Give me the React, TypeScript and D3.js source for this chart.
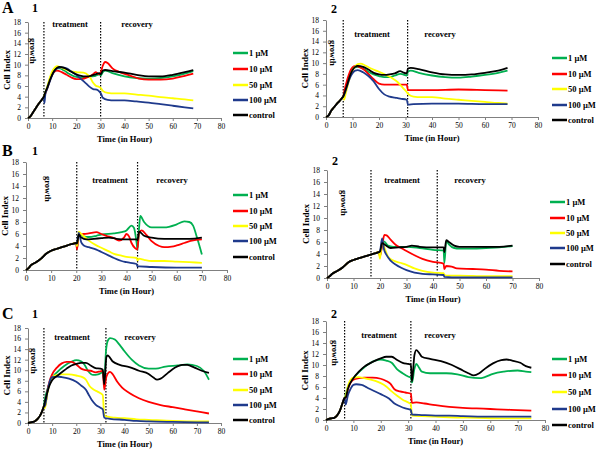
import React, { useEffect, useRef } from 'react';
import * as d3 from 'd3';

type Pt = [number, number];

// series names + colours (legend order)
const seriesNames = ['1 µM', '10 µM', '50 µM', '100 µM', 'control'];
const seriesColors = ['#00b050', '#ff0000', '#ffff00', '#1f3a8c', '#000000'];

const yTicks = [0, 2, 4, 6, 8, 10, 12, 14, 16, 18];
const xTicks = [0, 10, 20, 30, 40, 50, 60, 70, 80];

// ---- A1 ----
const a1Growth: Pt[] = [[0,0],[1,0.3],[2,1.0],[3,1.7],[4,2.4],[5,3.0],[6,3.6],[6.6,4.0]];
const a1Green: Pt[] = [[7,4.6],[8,5.8],[9,7.2],[10,8.3],[11,9.0],[12,9.3],[13,9.3],[15,8.9],[17,8.3],[20,7.7],[23,7.6],[26,7.8],[28,7.9],[29.5,8.2],[30.2,8.0],[31,8.6],[32,8.9],[35,8.4],[40,7.8],[45,7.5],[50,7.4],[55,7.5],[60,7.8],[65,8.3],[68.5,8.8]];
const a1Red: Pt[] = [[7,4.4],[8,5.6],[9,7.0],[10,8.1],[11,8.7],[12,8.9],[14,8.6],[16,8.1],[18,7.6],[20,7.3],[22,7.3],[25,7.7],[27,8.2],[28,8.6],[29.5,8.2],[30.2,8.6],[31,9.8],[32,10.5],[33,10.3],[35,9.3],[38,8.6],[42,8.0],[46,7.4],[50,7.2],[55,7.2],[60,7.4],[65,7.9],[68.5,8.3]];
const a1Yellow: Pt[] = [[7,4.5],[8,5.9],[9,7.5],[10,8.7],[11,9.4],[12,9.7],[13,9.6],[15,9.2],[17,8.9],[20,8.6],[23,8.5],[25,8.0],[26,7.4],[27,6.6],[28,6.1],[29.5,5.8],[30.2,5.6],[31,5.1],[33,4.7],[36,4.6],[40,4.6],[45,4.4],[50,4.2],[55,3.9],[60,3.7],[65,3.5],[68.5,3.3]];
const a1Blue: Pt[] = [[6.8,2.8],[7.2,4.5],[8,5.5],[9,6.8],[10,8.0],[11,8.8],[12,9.3],[14,9.5],[16,9.3],[18,8.7],[20,8.1],[22,7.3],[24,6.5],[26,5.7],[27,5.4],[28.5,5.3],[29.5,5.0],[30.2,4.6],[31,3.8],[33,3.4],[36,3.3],[40,3.3],[45,3.1],[50,2.9],[55,2.6],[60,2.3],[65,2.0],[68.5,1.8]];
const a1Control: Pt[] = [[7,4.6],[8,5.7],[9,7.0],[10,8.1],[11,8.9],[12,9.4],[13,9.6],[15,9.4],[17,8.9],[20,8.2],[22,7.9],[24,7.8],[26,7.9],[28,8.2],[29.5,8.4],[30.2,8.2],[31,8.9],[32,9.0],[35,8.8],[40,8.5],[45,8.1],[50,7.8],[55,7.8],[60,8.1],[65,8.6],[68.5,9.0]];

// ---- A2 ----
const a2Growth: Pt[] = [[0,0],[1,0.3],[2,1.2],[3,1.8],[4,2.4],[5,2.9],[6,3.5],[6.5,3.8]];
const a2Green: Pt[] = [[7,4.6],[8,6.2],[9,7.8],[10,8.8],[11,9.2],[12,9.3],[14,9.0],[16,8.4],[18,7.9],[20,7.6],[22,7.4],[24,7.4],[26,7.7],[28,8.0],[29,7.9],[30.5,7.7],[30.9,8.4],[32,8.6],[35,8.2],[40,7.7],[45,7.4],[50,7.3],[55,7.5],[60,7.8],[65,8.2],[68.5,8.6]];
const a2Red: Pt[] = [[7,5.0],[8,6.9],[9,8.4],[10,9.2],[11,9.5],[12,9.4],[14,8.9],[16,8.0],[18,7.0],[20,6.2],[22,6.0],[25,6.0],[28,6.0],[30.5,6.0],[30.9,5.0],[33,5.0],[40,5.0],[50,5.1],[60,5.0],[68.5,4.9]];
const a2Yellow: Pt[] = [[6.8,3.2],[7.5,4.5],[9,7.3],[10,8.6],[11,9.4],[12,9.8],[13,9.9],[15,9.5],[17,9.0],[20,8.4],[23,7.7],[25,7.2],[27,6.5],[29,5.4],[30.5,4.6],[31,4.3],[33,3.8],[36,3.7],[40,3.7],[45,3.4],[50,3.2],[55,3.0],[60,2.8],[65,2.6],[68.5,2.5]];
const a2Blue: Pt[] = [[7,4.3],[8,5.8],[9,7.2],[10,8.1],[11,8.6],[12,8.7],[14,8.3],[16,7.6],[18,6.6],[20,5.2],[22,4.2],[24,3.8],[26,3.6],[28,3.4],[30.5,3.2],[30.9,2.3],[33,2.4],[40,2.5],[50,2.5],[60,2.4],[68.5,2.4]];
const a2Control: Pt[] = [[7,4.5],[8,6.0],[9,7.6],[10,8.7],[11,9.3],[12,9.5],[14,9.3],[16,8.8],[18,8.2],[20,7.9],[22,7.8],[24,7.9],[26,8.1],[28,8.5],[29,8.3],[30.5,8.1],[30.9,9.0],[32,9.1],[35,8.9],[40,8.3],[45,7.9],[50,7.8],[55,7.9],[60,8.2],[65,8.6],[68.5,9.1]];

// ---- B1 ----
const b1Growth: Pt[] = [[0,0],[1,0.3],[2,0.8],[4,1.3],[6,1.9],[8,2.7],[10,3.2],[12,3.5],[15,3.9],[18,4.3],[20,4.5]];
const b1Green: Pt[] = [[20.3,3.6],[21,5.9],[23,5.6],[25,5.5],[28,5.7],[30,5.9],[35,6.1],[38,6.3],[40,6.6],[42,7.4],[43,7.0],[44,4.6],[44.4,3.4],[45,7.0],[45.5,9.0],[47,8.0],[50,7.1],[55,7.1],[60,7.6],[63,8.1],[65,8.0],[66.5,7.4],[68,5.5],[70,2.6]];
const b1Red: Pt[] = [[20.3,3.4],[21,5.9],[23,6.0],[25,6.1],[28,6.3],[30,6.0],[32,5.7],[35,5.3],[37,4.9],[39,5.4],[40,6.0],[41,5.6],[42,4.5],[43.5,3.6],[44.3,3.4],[45,6.2],[46,6.6],[48,5.8],[50,4.8],[53,4.0],[55,3.8],[58,3.9],[60,4.1],[63,4.5],[66,4.9],[70,5.1]];
const b1Yellow: Pt[] = [[20.3,4.0],[21,6.4],[22,6.0],[25,4.9],[28,4.1],[30,3.7],[33,3.1],[35,2.7],[38,2.4],[40,2.2],[44,2.0],[44.4,1.6],[45,1.9],[47,1.7],[50,1.5],[55,1.5],[60,1.4],[65,1.3],[70,1.2]];
const b1Blue: Pt[] = [[20.3,4.6],[21,6.2],[22,4.6],[23,4.1],[25,3.8],[28,3.4],[30,3.0],[33,2.4],[35,2.0],[38,1.5],[40,1.3],[44,1.0],[44.4,0.6],[45,0.6],[50,0.5],[60,0.4],[70,0.4]];
const b1Control: Pt[] = [[20.3,4.4],[21,5.9],[22,5.4],[24,5.1],[27,5.2],[30,5.3],[33,5.4],[36,5.2],[40,5.1],[44,5.1],[44.4,5.0],[45,6.4],[47,5.7],[50,5.4],[55,5.2],[60,5.2],[65,5.2],[70,5.4]];

// ---- B2 ----
const b2Growth: Pt[] = [[0,0],[1,0.3],[2,0.7],[4,1.2],[6,1.8],[8,2.6],[10,3.0],[12,3.3],[15,3.7],[18,4.1],[19.5,4.3]];
const b2Green: Pt[] = [[20,3.8],[20.8,5.5],[21.5,6.1],[23,5.4],[25,5.2],[30,5.2],[35,5.0],[40,4.7],[44,4.6],[44.3,2.5],[45,6.2],[46,5.6],[48,5.0],[50,4.9],[55,4.9],[60,5.0],[65,5.1],[70,5.3]];
const b2Red: Pt[] = [[20,3.6],[21,6.0],[21.7,7.2],[22.5,7.1],[24,6.4],[26,5.5],[28,5.0],[30,4.5],[33,3.8],[36,3.2],[40,2.7],[44,2.4],[44.3,1.5],[45,2.0],[47,1.9],[49,1.6],[55,1.5],[60,1.4],[65,1.2],[70,1.1]];
const b2Yellow: Pt[] = [[20,3.2],[20.8,6.2],[21.5,5.3],[23,3.6],[25,2.9],[28,2.5],[30,2.2],[33,1.6],[36,1.2],[40,0.9],[44,0.8],[44.3,0.5],[46,0.4],[50,0.4],[60,0.3],[70,0.3]];
const b2Blue: Pt[] = [[20,4.5],[20.8,6.6],[21.5,4.8],[22.5,3.8],[24,2.9],[26,2.2],[28,1.7],[30,1.3],[33,0.9],[36,0.7],[40,0.6],[44,0.5],[44.3,0.2],[50,0.1],[60,0.1],[70,0.1]];
const b2Control: Pt[] = [[20,4.4],[20.8,5.8],[22,5.5],[24,5.0],[27,5.1],[30,5.2],[32,5.4],[35,5.2],[40,5.1],[44,5.1],[44.3,4.3],[45,6.3],[46,6.0],[48,5.4],[50,5.2],[55,5.2],[60,5.2],[65,5.2],[70,5.4]];

// ---- C1 ----
const c1Growth: Pt[] = [[0,0],[2,0.2],[3,0.4],[4,0.8],[5,1.4],[6,2.4],[6.6,3.2]];
const c1Green: Pt[] = [[7,4.5],[8,6.3],[9,7.6],[10,8.6],[12,9.6],[15,10.8],[18,11.6],[20,11.9],[22,11.7],[23.5,11.0],[25,9.8],[27,9.1],[29,9.2],[31,9.6],[31.6,8.0],[32.3,13.5],[33,15.5],[34,16.1],[36,15.8],[38,14.8],[40,13.6],[43,12.0],[46,10.9],[50,10.3],[53,10.3],[57,10.7],[62,10.9],[66,11.1],[70,10.8],[73,9.8],[75,8.2]];
const c1Red: Pt[] = [[7,3.0],[8,6.0],[9,8.0],[10,9.2],[12,10.5],[14,11.3],[16,11.6],[18,11.6],[20,11.1],[22,10.3],[24,10.0],[26,9.9],[28,9.6],[30,9.8],[31,9.9],[31.6,6.3],[32.5,8.8],[34,9.7],[35,9.3],[37,7.8],[39,6.7],[42,5.7],[46,4.7],[50,4.0],[55,3.4],[60,3.0],[65,2.6],[70,2.2],[75,1.8]];
const c1Yellow: Pt[] = [[7,2.8],[8,5.5],[9,7.6],[10,8.6],[12,9.1],[14,9.2],[17,9.2],[20,9.0],[23,8.6],[24,8.2],[25.5,7.0],[27,6.4],[29,5.9],[31,5.3],[31.6,1.5],[33,1.2],[36,1.0],[40,0.9],[45,0.7],[50,0.6],[60,0.4],[70,0.3],[75,0.3]];
const c1Blue: Pt[] = [[7,3.2],[8,5.8],[9,7.9],[10,8.7],[12,8.8],[14,8.7],[17,8.4],[20,7.8],[22,7.1],[24,6.3],[25,5.5],[26.5,4.3],[28,3.5],[30,2.9],[31,2.6],[31.6,1.0],[34,0.8],[40,0.6],[45,0.4],[50,0.3],[60,0.2],[75,0.1]];
const c1Control: Pt[] = [[7,4.0],[8,5.8],[9,7.2],[10,8.1],[12,8.9],[14,9.6],[16,10.3],[18,10.9],[20,11.2],[22,11.4],[24,11.4],[26,10.9],[28,10.4],[30,10.3],[31,10.1],[31.6,7.3],[32.5,12.5],[33,12.8],[35,11.7],[38,11.0],[42,10.6],[46,9.9],[50,9.3],[52,8.6],[53.5,8.2],[55,8.4],[58,9.5],[61,10.5],[64,11.0],[66,11.0],[69,10.5],[72,9.9],[75,9.5]];

// ---- C2 ----
const c2Growth: Pt[] = [[0,0],[1,0.2],[2,0.3],[3,0.4],[4,0.8],[5,1.6],[6,3.0],[6.8,4.0]];
const c2Green: Pt[] = [[7.2,4.6],[8,6.0],[9,7.0],[10,7.6],[12,8.7],[14,9.6],[16,10.3],[18,10.8],[20,11.0],[22,10.8],[24,10.4],[26,9.2],[28,8.5],[30,7.9],[31,7.7],[31.4,6.8],[32.3,9.3],[33,10.2],[34,9.5],[35,8.8],[38,8.5],[44,8.5],[48,8.3],[52,7.8],[56,7.6],[58,7.8],[61,8.4],[65,8.8],[70,9.0],[73,8.8],[75,8.7]];
const c2Red: Pt[] = [[7.2,4.0],[8,5.6],[9,6.8],[10,7.3],[12,7.6],[14,7.7],[17,7.7],[20,7.5],[22,7.1],[23.5,6.6],[25,5.6],[27,5.2],[29,5.0],[31,4.8],[31.4,3.1],[33,3.2],[36,3.0],[40,2.7],[45,2.4],[50,2.2],[55,2.1],[60,2.0],[65,1.9],[70,1.8],[75,1.7]];
const c2Yellow: Pt[] = [[7.2,4.4],[8,6.2],[9,7.3],[10,7.7],[12,7.8],[14,7.6],[16,7.4],[18,7.1],[20,6.7],[22,6.1],[24,5.2],[26,4.4],[28,3.7],[30,3.2],[31,2.9],[31.4,0.8],[35,0.7],[40,0.6],[45,0.5],[55,0.4],[65,0.3],[75,0.3]];
const c2Blue: Pt[] = [[7.2,2.8],[8,4.5],[9,5.7],[10,6.4],[11,6.5],[13,6.4],[15,5.9],[17,5.4],[20,4.7],[23,3.9],[25,3.0],[27,2.5],[29,2.1],[31,1.8],[31.4,1.0],[35,0.9],[40,0.8],[45,0.8],[50,0.7],[60,0.6],[70,0.6],[75,0.6]];
const c2Control: Pt[] = [[7.2,4.1],[8,5.7],[10,7.6],[12,8.8],[14,9.7],[16,10.3],[18,10.8],[20,11.2],[22,11.5],[24,11.5],[26,10.9],[28,10.4],[30,10.2],[31,10.1],[31.4,7.0],[32.3,11.8],[33,12.7],[34,12.2],[35,11.5],[38,11.1],[42,10.7],[46,10.0],[50,9.0],[52,8.5],[54,8.1],[56,8.5],[58,9.3],[61,10.3],[64,10.9],[66,11.0],[68,10.8],[71,10.4],[73,9.8],[75,9.5]];

// phase boundaries (hours) per panel
const a1Phases = [6.6, 30.1];
const a2Phases = [6.5, 30.8];
const b1Phases = [20.2, 44.4];
const b2Phases = [16.6, 41.6];
const c1Phases = [6.6, 32.3];
const c2Phases = [6.8, 31.0];

// layout (pixels) of each panel
const panels = [
  { letter: 'A', num: '1', l: 28, r: 221, t: 22, b: 118, phases: a1Phases, growth: a1Growth,
    series: [a1Green, a1Red, a1Yellow, a1Blue, a1Control],
    treat: [70, 27], recov: [137, 27], grow: [30, 38], legX: 233, legY: [53, 69, 85, 100, 115] },
  { letter: '', num: '2', l: 326, r: 538, t: 20, b: 117, phases: a2Phases, growth: a2Growth,
    series: [a2Green, a2Red, a2Yellow, a2Blue, a2Control],
    treat: [372, 37], recov: [440, 37], grow: [330, 40], legX: 552, legY: [58, 74, 89, 105, 120] },
  { letter: 'B', num: '1', l: 26, r: 227, t: 162, b: 270, phases: b1Phases, growth: b1Growth,
    series: [b1Green, b1Red, b1Yellow, b1Blue, b1Control],
    treat: [110, 183], recov: [172, 183], grow: [45, 176], legX: 233, legY: [195, 211, 226, 241, 257] },
  { letter: '', num: '2', l: 327, r: 539, t: 170, b: 278, phases: b2Phases, growth: b2Growth,
    series: [b2Green, b2Red, b2Yellow, b2Blue, b2Control],
    treat: [402, 183], recov: [470, 183], grow: [341, 190], legX: 550, legY: [202, 218, 233, 248, 264] },
  { letter: 'C', num: '1', l: 28, r: 221, t: 328, b: 423, phases: c1Phases, growth: c1Growth,
    series: [c1Green, c1Red, c1Yellow, c1Blue, c1Control],
    treat: [72, 340], recov: [140, 340], grow: [31, 348], legX: 233, legY: [359, 374, 390, 405, 420] },
  { letter: '', num: '2', l: 326, r: 545, t: 321, b: 420, phases: c2Phases, growth: c2Growth,
    series: [c2Green, c2Red, c2Yellow, c2Blue, c2Control],
    treat: [379, 338], recov: [440, 338], grow: [332, 340], legX: 552, legY: [359, 375, 392, 409, 425] },
];

const labelTop = [12, 155, 318];

const App = () => {
  const ref = useRef<SVGSVGElement>(null);

  useEffect(() => {
    const svg = d3.select(ref.current);
    svg.selectAll('*').remove();
    const font = '"Liberation Serif", "Times New Roman", serif';

    panels.forEach((p, pi) => {
      const g = svg.append('g');
      const x = d3.scaleLinear().domain([0, 80]).range([p.l, p.r]);
      const y = d3.scaleLinear().domain([0, 18]).range([p.b, p.t]);
      const row = Math.floor(pi / 2);

      // panel letter + number
      if (p.letter) {
        g.append('text').attr('x', 2).attr('y', labelTop[row] + 1).text(p.letter)
          .attr('font-family', font).attr('font-weight', 'bold').attr('font-size', 16);
      }
      g.append('text').attr('x', p.l < 200 ? 32 : p.l + 5).attr('y', pi === 1 ? 13 : labelTop[row] + (pi === 3 ? 10 : 0))
        .text(p.num).attr('font-family', font).attr('font-weight', 'bold').attr('font-size', 12);

      // axes
      const ax = g.append('g').attr('transform', `translate(0,${p.b})`)
        .call(d3.axisBottom(x).tickValues(xTicks).tickSize(3).tickSizeOuter(0));
      const ay = g.append('g').attr('transform', `translate(${p.l},0)`)
        .call(d3.axisLeft(y).tickValues(yTicks).tickSize(3).tickSizeOuter(0));
      [ax, ay].forEach(a => {
        a.selectAll('path,line').attr('stroke', '#808080');
        a.selectAll('text').attr('font-family', font).attr('font-size', 7.5).attr('fill', '#000');
      });
      ay.selectAll('text').attr('dx', '-1');

      // axis titles
      g.append('text').attr('x', (p.l + p.r) / 2).attr('y', p.b + 24).attr('text-anchor', 'middle')
        .text('Time (in Hour)').attr('font-family', font).attr('font-weight', 'bold').attr('font-size', 8.5);
      g.append('text').attr('transform', `translate(${p.l - 18},${(p.t + p.b) / 2}) rotate(-90)`)
        .attr('text-anchor', 'middle').text('Cell Index')
        .attr('font-family', font).attr('font-weight', 'bold').attr('font-size', 9);

      // phase dividers
      p.phases.forEach(ph => {
        g.append('line').attr('x1', x(ph)).attr('x2', x(ph)).attr('y1', y(18)).attr('y2', y(0))
          .attr('stroke', '#000').attr('stroke-width', 1.2).attr('stroke-dasharray', '1.5,1.5');
      });

      const lbl = (pos: number[], txt: string) =>
        g.append('text').attr('x', pos[0]).attr('y', pos[1]).attr('text-anchor', 'middle').text(txt)
          .attr('font-family', font).attr('font-weight', 'bold').attr('font-size', 8.5);
      lbl(p.treat, 'treatment');
      lbl(p.recov, 'recovery');
      g.append('text').attr('transform', `translate(${p.grow[0]},${p.grow[1]}) rotate(90)`)
        .text('growth').attr('font-family', font).attr('font-weight', 'bold').attr('font-size', 8.5);

      // lines
      const line = d3.line<Pt>().x(d => x(d[0])).y(d => y(d[1])).curve(d3.curveMonotoneX);
      p.series.forEach((s, si) => {
        g.append('path').datum(p.growth.concat(s)).attr('d', line)
          .attr('fill', 'none').attr('stroke', seriesColors[si]).attr('stroke-width', 1.8)
          .attr('stroke-linejoin', 'round');
      });

      // legend
      seriesNames.forEach((n, si) => {
        const ly = p.legY[si];
        g.append('line').attr('x1', p.legX).attr('x2', p.legX + 15).attr('y1', ly).attr('y2', ly)
          .attr('stroke', seriesColors[si]).attr('stroke-width', 2.5);
        g.append('text').attr('x', p.legX + 16).attr('y', ly + 3).text(n)
          .attr('font-family', font).attr('font-weight', 'bold').attr('font-size', 8.5);
      });
    });
  }, []);

  return (
    <svg ref={ref} width={600} height={450}
      style={{ position: 'absolute', left: 0, top: 0, background: '#fff' }} />
  );
};

export default App;
